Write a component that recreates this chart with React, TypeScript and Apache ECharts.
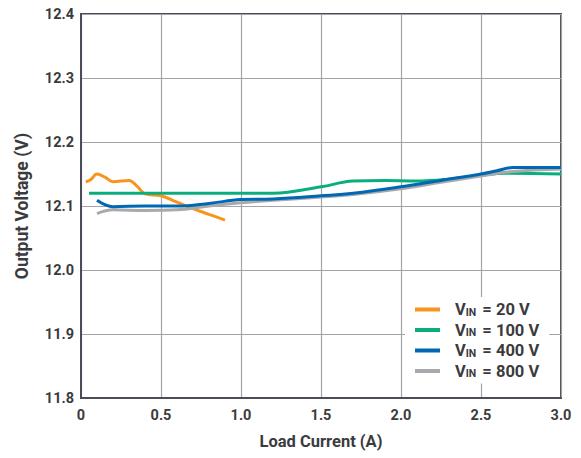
import React, { useEffect, useRef } from "react";
import * as echarts from "echarts";

const seriesNames = ["VIN = 20 V", "VIN = 100 V", "VIN = 400 V", "VIN = 800 V"];
const seriesColors = ["#f7941d", "#0aae7e", "#0068b3", "#a7a9ac"];

const vin20: [number, number][] = [
  [0.03, 12.138], [0.06, 12.141], [0.1, 12.15], [0.15, 12.145], [0.2, 12.138],
  [0.3, 12.14], [0.35, 12.131], [0.4, 12.119], [0.5, 12.116], [0.6, 12.106],
  [0.7, 12.096], [0.8, 12.087], [0.9, 12.078],
];
const vin100: [number, number][] = [
  [0.05, 12.12], [0.5, 12.12], [1.0, 12.12], [1.2, 12.12], [1.5, 12.13],
  [1.7, 12.139], [1.9, 12.14], [2.1, 12.139], [2.3, 12.142], [2.5, 12.148],
  [2.65, 12.151], [3.0, 12.15],
];
const vin400: [number, number][] = [
  [0.1, 12.109], [0.2, 12.099], [0.4, 12.1], [0.6, 12.1], [0.8, 12.104],
  [1.0, 12.11], [1.2, 12.111], [1.5, 12.116], [1.7, 12.12], [2.0, 12.13],
  [2.25, 12.14], [2.5, 12.15], [2.6, 12.155], [2.7, 12.16], [3.0, 12.16],
];
const vin800: [number, number][] = [
  [0.1, 12.088], [0.2, 12.094], [0.4, 12.093], [0.6, 12.094], [0.8, 12.1],
  [1.0, 12.105], [1.2, 12.109], [1.5, 12.114], [1.7, 12.118], [2.0, 12.127],
  [2.25, 12.137], [2.5, 12.147], [2.7, 12.154], [3.0, 12.158],
];
const seriesData = [vin20, vin100, vin400, vin800];

const xTicks = { min: 0, max: 3, interval: 0.5 };
const yTicks = { min: 11.8, max: 12.4, interval: 0.1 };

const FONT = "Roboto";

export default function App() {
  const ref = useRef<HTMLDivElement>(null);
  useEffect(() => {
    if (!ref.current) return;
    const chart = echarts.init(ref.current, null, { renderer: "svg" });
    const axisLabel = {
      color: "#3b3b3d",
      fontFamily: FONT,
      fontWeight: "bold" as const,
      fontSize: 14.5,
    };
    chart.setOption({
      animation: false,
      backgroundColor: "#ffffff",
      grid: {
        left: 81,
        right: 20,
        top: 14,
        bottom: 60,
        show: true,
        borderColor: "#4a4d55",
        borderWidth: 2,
        backgroundColor: "transparent",
      },
      xAxis: {
        type: "value",
        min: xTicks.min,
        max: xTicks.max,
        interval: xTicks.interval,
        name: "Load Current (A)",
        nameLocation: "middle",
        nameGap: 35,
        nameTextStyle: { ...axisLabel, fontSize: 16.5 },
        axisLine: { show: true, lineStyle: { color: "#4a4d55", width: 2 } },
        axisTick: { show: false },
        splitLine: { show: true, lineStyle: { color: "#a3a4aa", width: 1.2 } },
        axisLabel: {
          ...axisLabel,
          margin: 10,
          formatter: (v: number) => (v === 0 ? "0" : v.toFixed(1)),
        },
      },
      yAxis: {
        type: "value",
        min: yTicks.min,
        max: yTicks.max,
        interval: yTicks.interval,
        name: "Output Voltage (V)",
        nameLocation: "middle",
        nameGap: 50,
        nameTextStyle: { ...axisLabel, fontSize: 17.5 },
        axisLine: { show: true, lineStyle: { color: "#4a4d55", width: 2 } },
        axisTick: { show: false },
        splitLine: { show: true, lineStyle: { color: "#a3a4aa", width: 1.2 } },
        axisLabel: {
          ...axisLabel,
          margin: 7,
          formatter: (v: number) => v.toFixed(1),
        },
      },
      legend: {
        orient: "vertical",
        left: 405,
        top: 297,
        backgroundColor: "#ffffff",
        padding: [4, 10, 4, 10],
        itemGap: 3.5,
        itemWidth: 25,
        itemHeight: 4,
        icon: "rect",
        data: seriesNames,
        formatter: (name: string) => {
          const rest = name.replace(/^VIN/, "");
          return `{v|V}{s|IN}{v|${rest}}`;
        },
        textStyle: {
          color: "#3b3b3d",
          fontFamily: FONT,
          fontWeight: "bold",
          fontSize: 16.5,
          padding: [0, 0, 0, 10],
          rich: {
            v: { fontFamily: FONT, fontWeight: "bold", fontSize: 16.5, color: "#3b3b3d", height: 16, lineHeight: 16 },
            s: {
              fontFamily: FONT,
              fontWeight: "bold",
              fontSize: 10.5,
              color: "#3b3b3d",
              verticalAlign: "bottom",
              lineHeight: 6,
              padding: [0, 2, 0, 0],
            },
          },
        },
      },
      series: seriesNames.map((name, i) => ({
        name,
        type: "line",
        data: seriesData[i],
        smooth: 0.4,
        showSymbol: false,
        symbol: "none",
        color: seriesColors[i],
        lineStyle: { color: seriesColors[i], width: 3 },
        z: i === 2 ? 5 : 3,
      })),
    });
    return () => chart.dispose();
  }, []);
  return (
    <div
      ref={ref}
      style={{ position: "absolute", left: 0, top: 0, width: 581, height: 458 }}
    />
  );
}
